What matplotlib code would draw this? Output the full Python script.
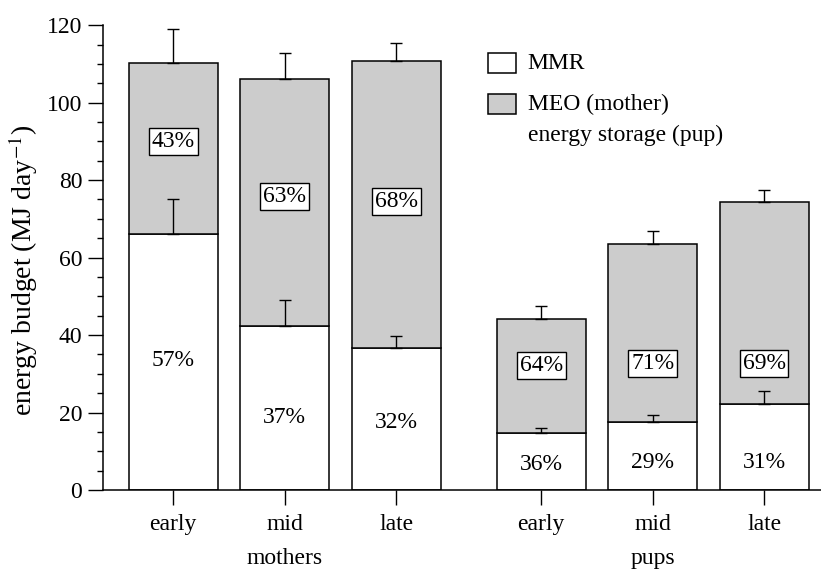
import numpy as np
import matplotlib
matplotlib.use("Agg")
import matplotlib.pyplot as plt
from matplotlib.patches import Rectangle

plt.rcParams['font.family'] = ['Liberation Serif', 'DejaVu Serif']
plt.rcParams['mathtext.fontset'] = 'stix'

# data (MJ/day)
stages = ["early", "mid", "late", "early", "mid", "late"]
groups = ["mothers", "pups"]
mmr = [66.0, 42.3, 36.6, 14.6, 17.5, 22.3]
mmr_err = [9.0, 6.7, 3.2, 1.5, 1.9, 3.3]
meo = [44.3, 63.8, 74.2, 29.5, 45.9, 52.0]
total_err = [8.6, 6.6, 4.6, 3.4, 3.4, 3.2]
pct_mmr = ["57%", "37%", "32%", "36%", "29%", "31%"]
pct_meo = ["43%", "63%", "68%", "64%", "71%", "69%"]
# vertical placement of the percentage labels
pct_mmr_y = [33.5, 18.6, 17.4, 6.5, 7.0, 7.0]
pct_meo_y = [89.9, 75.7, 74.4, 32.1, 32.7, 32.7]

x = np.array([0, 1, 2, 3.3, 4.3, 5.3])
mmr = np.array(mmr)
meo = np.array(meo)
total = mmr + meo

fs = 17

fig = plt.figure(figsize=(8.21, 5.70), dpi=100)
ax = fig.add_axes([0.1255, 0.1404, 0.8745, 0.8154])

w = 0.8
ax.bar(x, mmr, w, color='white', edgecolor='black', linewidth=1.1, zorder=2)
ax.bar(x, meo, w, bottom=mmr, color='#cccccc', edgecolor='black', linewidth=1.1, zorder=2)

ax.errorbar(x, mmr, yerr=[np.zeros(6), mmr_err], fmt='none', ecolor='black',
            elinewidth=1.0, capsize=4.5, capthick=1.0, zorder=3)
ax.errorbar(x, total, yerr=[np.zeros(6), total_err], fmt='none', ecolor='black',
            elinewidth=1.0, capsize=4.5, capthick=1.0, zorder=3)

for xi, t, y in zip(x, pct_mmr, pct_mmr_y):
    ax.text(xi, y, t, ha='center', va='center', fontsize=fs, zorder=4)
for xi, t, y in zip(x, pct_meo, pct_meo_y):
    ax.text(xi, y, t, ha='center', va='center', fontsize=fs, zorder=4,
            bbox=dict(boxstyle='square,pad=0.12', fc='white', ec='black', lw=1.0))

ax.set_xlim(-0.63, 5.81)
ax.set_ylim(0, 120)
ax.set_yticks(np.arange(0, 121, 20))
ax.set_yticks(np.arange(0, 121, 5), minor=True)
ax.set_xticks(x)
ax.set_xticklabels(stages)
ax.tick_params(axis='both', labelsize=fs, direction='out', width=1.0)
ax.tick_params(axis='y', which='major', length=11, pad=4)
ax.tick_params(axis='y', which='minor', length=4.5, width=1.0)
ax.tick_params(axis='x', which='major', length=11, pad=6)
for s in ['top', 'right']:
    ax.spines[s].set_visible(False)
for s in ['left', 'bottom']:
    ax.spines[s].set_linewidth(1.1)

ax.set_ylabel("energy budget (MJ day$^{-1}$)", fontsize=20)
ax.yaxis.set_label_coords(-0.0877, 0.473)

# group labels under the middle tick of each group
ax.text(x[1], -0.148, groups[0], transform=ax.get_xaxis_transform(),
        ha='center', va='center', fontsize=fs)
ax.text(x[4], -0.148, groups[1], transform=ax.get_xaxis_transform(),
        ha='center', va='center', fontsize=fs)

# legend drawn by hand
tr = ax.transAxes
ax.add_patch(Rectangle((0.5357, 0.8962), 0.0391, 0.043, transform=tr,
                       fc='white', ec='black', lw=1.1, clip_on=False))
ax.add_patch(Rectangle((0.5357, 0.8086), 0.0391, 0.043, transform=tr,
                       fc='#cccccc', ec='black', lw=1.1, clip_on=False))
ax.text(0.5915, 0.9177, "MMR", transform=tr, ha='left', va='center', fontsize=fs)
ax.text(0.5915, 0.8301, "MEO (mother)", transform=tr, ha='left', va='center', fontsize=fs)
ax.text(0.5915, 0.7634, "energy storage (pup)", transform=tr, ha='left', va='center', fontsize=fs)

fig.savefig("out.png", dpi=100)
